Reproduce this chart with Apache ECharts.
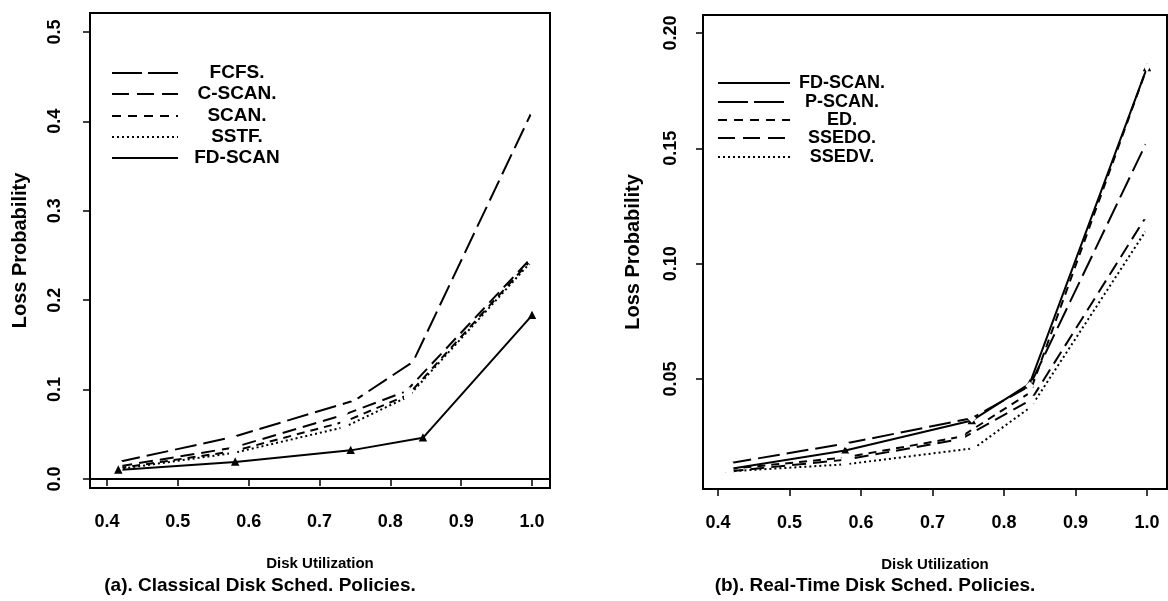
<!DOCTYPE html>
<html>
<head>
<meta charset="utf-8">
<script src="https://cdn.jsdelivr.net/npm/echarts@6/dist/echarts.min.js"></script>
<style>
  html, body { margin: 0; padding: 0; background: #fff; }
  #chart { width: 1168px; height: 601px; }
</style>
</head>
<body>
<div id="chart"></div>
<script>
// ---- Panel (a): classical disk scheduling policies ----
const fcfsX   = [0.416, 0.578, 0.750, 0.832, 1.0];
const fcfsY   = [0.019, 0.047, 0.088, 0.131, 0.411];
const cscanX  = [0.416, 0.578, 0.735, 0.822, 1.0];
const cscanY  = [0.014, 0.035, 0.072, 0.098, 0.248];
const scanX   = [0.416, 0.578, 0.735, 0.825, 1.0];
const scanY   = [0.012, 0.031, 0.064, 0.094, 0.246];
const sstfX   = [0.416, 0.578, 0.735, 0.825, 1.0];
const sstfY   = [0.011, 0.029, 0.058, 0.092, 0.244];
const fdscanAX = [0.416, 0.581, 0.744, 0.846, 1.0];
const fdscanAY = [0.010, 0.019, 0.032, 0.046, 0.183];

// ---- Panel (b): real-time disk scheduling policies ----
const fdscanBX = [0.416, 0.578, 0.755, 0.836, 1.0];
const fdscanBY = [0.011, 0.019, 0.032, 0.048, 0.185];
const pscanX   = [0.416, 0.578, 0.755, 0.836, 1.0];
const pscanY   = [0.0135, 0.022, 0.033, 0.047, 0.153];
const edX      = [0.416, 0.578, 0.740, 0.836, 1.0];
const edY      = [0.011, 0.016, 0.025, 0.044, 0.185];
const ssedoX   = [0.416, 0.578, 0.740, 0.838, 1.0];
const ssedoY   = [0.010, 0.015, 0.024, 0.041, 0.121];
const ssedvX   = [0.416, 0.578, 0.758, 0.838, 1.0];
const ssedvY   = [0.010, 0.013, 0.020, 0.038, 0.115];

// ---- tick values ----
const xTicks  = [0.4, 0.5, 0.6, 0.7, 0.8, 0.9, 1.0];
const yTicksA = [0.0, 0.1, 0.2, 0.3, 0.4, 0.5];
const yTicksB = [0.05, 0.10, 0.15, 0.20];

// ---- legend entries ----
const legendNamesA = ['FCFS.', 'C-SCAN.', 'SCAN.', 'SSTF.', 'FD-SCAN'];
const legendNamesB = ['FD-SCAN.', 'P-SCAN.', 'ED.', 'SSEDO.', 'SSEDV.'];

const FONT = '"Liberation Sans", Arial, Helvetica, sans-serif';
const tickText  = { color: '#000', fontFamily: FONT, fontWeight: 'bold', fontSize: 18 };
const xNameText = { color: '#000', fontFamily: FONT, fontWeight: 'bold', fontSize: 15 };
const yNameText = { color: '#000', fontFamily: FONT, fontWeight: 'bold', fontSize: 20 };

// dash patterns for the plotted curves
const DASH_LONG  = [22, 7];
const DASH_MED   = [14, 7];
const DASH_SHORT = [8, 6];
const DASH_DOT   = [2, 3];
// dash patterns for the legend samples
const KEY_LONG  = [30, 6];
const KEY_MED   = [17, 8];
const KEY_SHORT = [9, 7];
const KEY_DOT   = [2, 3];

const pairs = (xs, ys) => xs.map((x, i) => [x, ys[i]]);

function xAxisFor(gridIndex, min, max) {
  return {
    type: 'value', gridIndex, min, max,
    axisLine: { show: true, lineStyle: { color: '#000', width: 2 } },
    splitLine: { show: false },
    axisTick: { show: true, inside: false, length: 7, customValues: xTicks,
                lineStyle: { color: '#000', width: 1.5 } },
    axisLabel: Object.assign({ customValues: xTicks, margin: 25,
                formatter: v => v.toFixed(1) }, tickText),
    name: 'Disk Utilization', nameLocation: 'middle', nameGap: 68,
    nameTextStyle: Object.assign({}, xNameText)
  };
}

function yAxisFor(gridIndex, min, max, ticks, digits, margin) {
  return {
    type: 'value', gridIndex, min, max,
    axisLine: { show: true, lineStyle: { color: '#000', width: 2 } },
    splitLine: { show: false },
    axisTick: { show: true, inside: false, length: 7, customValues: ticks,
                lineStyle: { color: '#000', width: 1.5 } },
    axisLabel: Object.assign({ customValues: ticks, margin, rotate: 90,
                formatter: v => v.toFixed(digits) }, tickText),
    name: 'Loss Probability', nameLocation: 'middle', nameGap: 60,
    nameTextStyle: Object.assign({}, yNameText)
  };
}

function lineSeries(name, idx, xs, ys, dash, symbol, rotate) {
  return {
    name, type: 'line', xAxisIndex: idx, yAxisIndex: idx,
    data: pairs(xs, ys),
    symbol, symbolSize: 6, symbolRotate: rotate || 0,
    itemStyle: { color: symbol.startsWith('empty') ? '#fff' : '#000', borderColor: '#000', borderWidth: 1.5 },
    lineStyle: { color: '#000', width: 2, type: dash },
    emphasis: { disabled: true },
    animation: false
  };
}

// legend drawn as plain line samples with centred labels
function legendGraphics(names, dashes, lineX1, lineX2, textX, rows, size) {
  const out = [];
  names.forEach((n, i) => {
    out.push({
      type: 'line',
      shape: { x1: lineX1, y1: rows[i], x2: lineX2, y2: rows[i] },
      style: { stroke: '#000', lineWidth: 2, lineDash: dashes[i] }
    });
    out.push({
      type: 'text', x: textX, y: rows[i],
      style: { text: n, fill: '#000', font: 'bold ' + size + 'px ' + FONT,
               align: 'center', verticalAlign: 'middle' }
    });
  });
  return out;
}

const chart = echarts.init(document.getElementById('chart'), null, { renderer: 'canvas' });

const option = {
  backgroundColor: '#fff',
  animation: false,
  grid: [
    { left: 90, top: 13, width: 460, height: 475, show: true, borderColor: '#000', borderWidth: 2 },
    { left: 703, top: 15, width: 464, height: 474, show: true, borderColor: '#000', borderWidth: 2 }
  ],
  xAxis: [ xAxisFor(0, 0.376, 1.0254), xAxisFor(1, 0.379, 1.028) ],
  yAxis: [ yAxisFor(0, -0.0101, 0.5212, yTicksA, 1, 26),
           yAxisFor(1, 0.00232, 0.2078, yTicksB, 2, 23) ],
  series: [
    lineSeries('FCFS.',   0, fcfsX,  fcfsY,  DASH_LONG,  'emptyDiamond'),
    lineSeries('C-SCAN.', 0, cscanX, cscanY, DASH_MED,   'emptyTriangle', 180),
    lineSeries('SCAN.',   0, scanX,  scanY,  DASH_SHORT, 'emptyRect'),
    lineSeries('SSTF.',   0, sstfX,  sstfY,  DASH_DOT,   'emptyCircle'),
    lineSeries('FD-SCAN', 0, fdscanAX, fdscanAY, 'solid', 'triangle'),

    lineSeries('FD-SCAN.', 1, fdscanBX, fdscanBY, 'solid', 'triangle'),
    lineSeries('P-SCAN.',  1, pscanX, pscanY, DASH_LONG,  'emptyDiamond'),
    lineSeries('ED.',      1, edX,    edY,    DASH_SHORT, 'emptyTriangle', 180),
    lineSeries('SSEDO.',   1, ssedoX, ssedoY, DASH_MED,   'emptyRect'),
    lineSeries('SSEDV.',   1, ssedvX, ssedvY, DASH_DOT,   'emptyDiamond')
  ],
  graphic: [
    ...legendGraphics(legendNamesA, [KEY_LONG, KEY_MED, KEY_SHORT, KEY_DOT, null],
                      112, 178, 237, [73, 94, 116, 137, 158], 19),
    ...legendGraphics(legendNamesB, [null, KEY_LONG, KEY_SHORT, KEY_MED, KEY_DOT],
                      718, 790, 842, [83, 102, 120, 138, 157], 18),
    { type: 'text', x: 260, y: 586,
      style: { text: '(a). Classical Disk Sched. Policies.', fill: '#000', font: 'bold 19px ' + FONT,
               align: 'center', verticalAlign: 'middle' } },
    { type: 'text', x: 875, y: 586,
      style: { text: '(b). Real-Time Disk Sched. Policies.', fill: '#000', font: 'bold 19px ' + FONT,
               align: 'center', verticalAlign: 'middle' } }
  ]
};

chart.setOption(option);
</script>
</body>
</html>
